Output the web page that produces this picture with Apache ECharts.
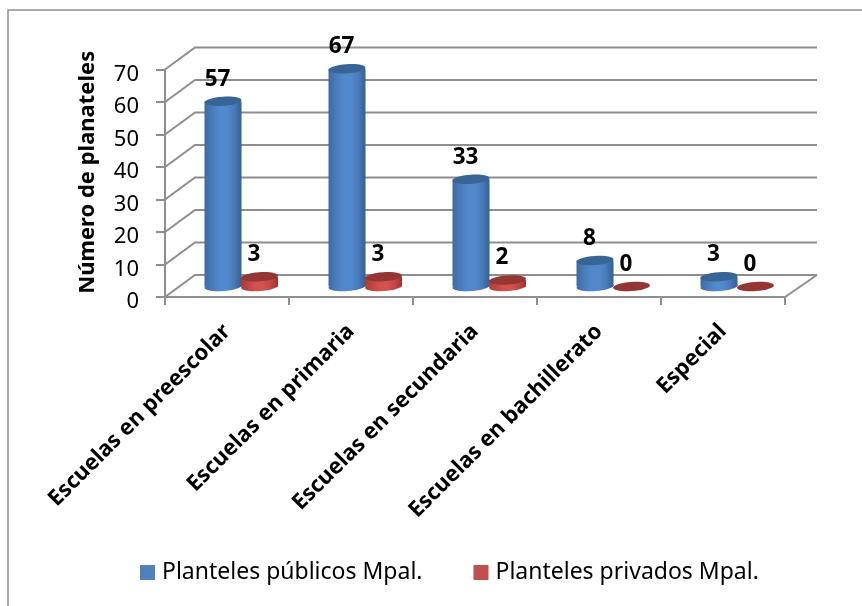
<!DOCTYPE html>
<html><head><meta charset="utf-8">
<style>html,body{margin:0;padding:0;background:#fff}#c{width:862px;height:606px}</style>
<script src="https://cdn.jsdelivr.net/npm/echarts@6/dist/echarts.min.js"></script>
</head><body><div id="c"></div>
<script>
const categories = ['Escuelas en preescolar','Escuelas en primaria','Escuelas en secundaria','Escuelas en bachillerato','Especial'];
const publicos = [57,67,33,8,3];
const privados = [3,3,2,0,0];
const yTicks = [0,10,20,30,40,50,60,70];
const namePublicos = 'Planteles públicos Mpal.';
const namePrivados = 'Planteles privados Mpal.';
const yTitle = 'Número de planateles';

const GRAY = '#8e8e8e';
const DX = 30, DY = -22;           // depth of the 3D box
const R = 18.5, RY = 4.6, TILT = 0.07;
const FONT = '"Noto Sans"';

function grad(stops){
  return {type:'linear',x:0,y:0,x2:1,y2:0,colorStops:stops.map((c,i)=>({offset:i/(stops.length-1),color:c}))};
}
const paletteBlue = {body:grad(['#3c6ba3','#4a7cba','#5288cc','#5288cc','#4a7cba','#345f91']), top:'#376596'};
const paletteRed  = {body:grad(['#a63c3a','#bf4744','#d2524f','#d2524f','#bf4744','#9a3533']), top:'#943634'};

function cylinder(palette, shift){
  return function(params, api){
    const i = api.value(0), v = api.value(1);
    const base = api.coord([i,0]), head = api.coord([i,v]);
    const cx = base[0] + shift + DX/2;
    const yb = base[1] + DY/2 + 0.5, yt = head[1] + DY/2 + 0.5;
    const ell = (y,fill)=>({type:'ellipse',shape:{cx:cx,cy:y,rx:R,ry:RY},rotation:TILT,originX:cx,originY:y,style:{fill:fill}});
    const children = [];
    if (v > 0){
      children.push(ell(yb,palette.body));
      children.push({type:'rect',shape:{x:cx-R,y:yt,width:2*R,height:yb-yt},style:{fill:palette.body}});
    }
    children.push(ell(yt,palette.top));
    children.push({type:'text',x:cx-5.5,y:yt-22,style:{text:String(v),fill:'#000',font:'bold 22.5px '+FONT,align:'center',verticalAlign:'middle'}});
    return {type:'group',children:children};
  };
}

function walls(params, api){
  const v = api.value(0);
  const sys = params.coordSys;
  const y = api.coord([0,v])[1];
  const x0 = sys.x, x1 = sys.x + sys.width;
  const line = {stroke:GRAY,lineWidth:2,fill:null};
  const children = [
    {type:'polyline',shape:{points:[[x0,y],[x0+DX,y+DY],[x1+DX+2,y+DY]]},style:line},
    {type:'text',x:x0-26,y:y+5,style:{text:String(v),fill:'#000',font:'22px '+FONT,align:'right',verticalAlign:'middle'}}
  ];
  if (v === 0) children.push({type:'line',shape:{x1:x1,y1:y,x2:x1+DX+2,y2:y+DY},style:line});
  return {type:'group',children:children};
}

const chart = echarts.init(document.getElementById('c'),null,{renderer:'canvas'});
chart.setOption({
  backgroundColor:'#fff',
  animation:false,
  graphic:[{type:'polyline',shape:{points:[[8,606],[8,10],[862,10]]},style:{stroke:GRAY,lineWidth:1.5,fill:null},silent:true}],
  legend:{
    data:[{name:namePublicos,icon:'rect'},{name:namePrivados,icon:'rect'}],
    left:135, top:556, itemWidth:15, itemHeight:15, itemGap:51,
    textStyle:{fontFamily:FONT,fontSize:23,color:'#000',padding:[0,0,0,2]},
    selectedMode:false
  },
  grid:{left:165,right:77,top:69.5,bottom:309,containLabel:false},
  xAxis:{
    type:'category',data:categories,
    axisLine:{lineStyle:{color:GRAY,width:2}},
    axisTick:{show:true,length:8,lineStyle:{color:GRAY,width:2}},
    axisLabel:{rotate:45,interval:0,margin:31,fontFamily:FONT,fontWeight:'bold',fontSize:22,color:'#000'},
    splitLine:{show:false}
  },
  yAxis:{
    type:'value',min:0,max:70,interval:10,
    name:yTitle,nameLocation:'middle',nameGap:66,
    nameTextStyle:{fontFamily:FONT,fontWeight:'bold',fontSize:22,color:'#000',padding:[0,0,0,22]},
    axisLine:{show:true,lineStyle:{color:GRAY,width:2}},
    axisTick:{show:true,length:9,lineStyle:{color:GRAY,width:2}},
    axisLabel:{show:false},
    splitLine:{show:false}
  },
  series:[
    {type:'custom',silent:true,renderItem:walls,data:yTicks.map(v=>[v]),encode:{y:0},z:1,tooltip:{show:false},clip:false},
    {type:'custom',name:namePublicos,renderItem:cylinder(paletteBlue,-19),data:publicos.map((v,i)=>[i,v]),encode:{x:0,y:1},itemStyle:{color:'#4f81bd'},z:2,clip:false},
    {type:'custom',name:namePrivados,renderItem:cylinder(paletteRed,17.5),data:privados.map((v,i)=>[i,v]),encode:{x:0,y:1},itemStyle:{color:'#c0504d'},z:3,clip:false}
  ]
});
</script></body></html>
